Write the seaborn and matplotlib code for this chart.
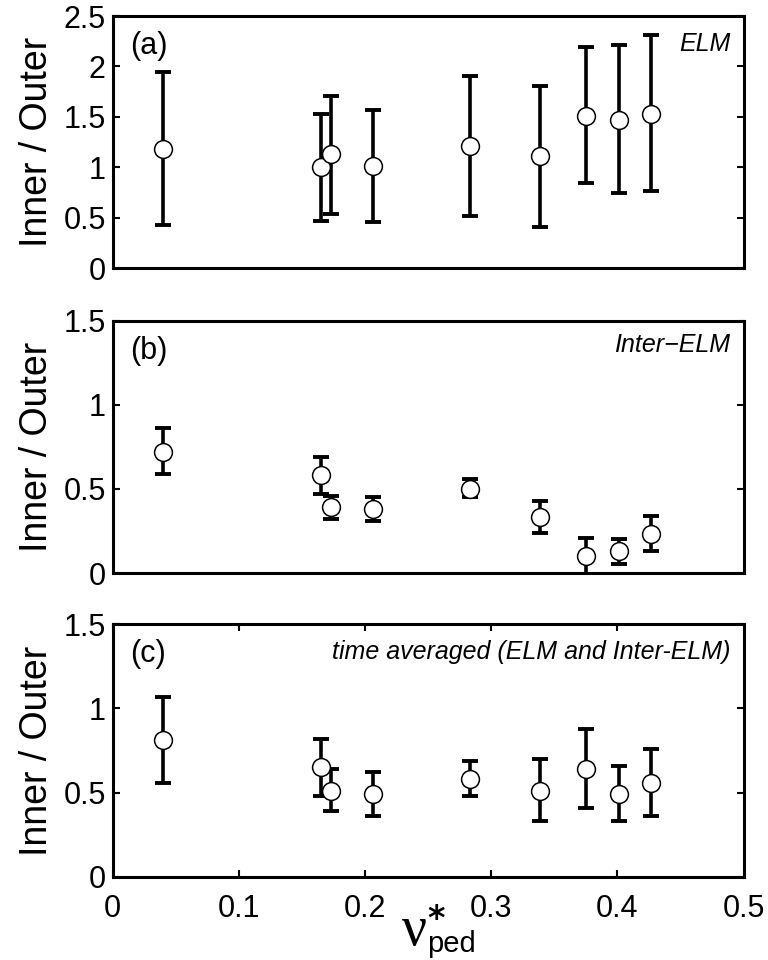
import matplotlib
matplotlib.use("Agg")
import matplotlib.pyplot as plt
import numpy as np
import pandas as pd
import seaborn as sns

# collisionality of each discharge (same for all three panels)
nu_ped = [0.040, 0.165, 0.173, 0.206, 0.283, 0.339, 0.375, 0.401, 0.427]

# (a) ELM
elm_val = [1.18, 1.00, 1.13, 1.01, 1.21, 1.11, 1.51, 1.47, 1.53]
elm_lo = [0.43, 0.47, 0.54, 0.46, 0.52, 0.41, 0.84, 0.74, 0.76]
elm_hi = [1.94, 1.53, 1.71, 1.57, 1.91, 1.81, 2.19, 2.21, 2.31]

# (b) inter-ELM
inter_val = [0.72, 0.58, 0.39, 0.38, 0.50, 0.33, 0.10, 0.13, 0.23]
inter_lo = [0.59, 0.47, 0.32, 0.31, 0.45, 0.24, -0.02, 0.055, 0.13]
inter_hi = [0.86, 0.69, 0.46, 0.45, 0.56, 0.43, 0.21, 0.20, 0.34]

# (c) time averaged
avg_val = [0.81, 0.65, 0.51, 0.49, 0.58, 0.51, 0.64, 0.49, 0.56]
avg_lo = [0.56, 0.48, 0.39, 0.36, 0.48, 0.33, 0.41, 0.33, 0.36]
avg_hi = [1.07, 0.82, 0.64, 0.62, 0.69, 0.70, 0.88, 0.66, 0.76]

panels = [
    ("(a)", "ELM", elm_val, elm_lo, elm_hi, 2.5),
    ("(b)", "Inter\u2212ELM", inter_val, inter_lo, inter_hi, 1.5),
    ("(c)", "time averaged (ELM and Inter-ELM)", avg_val, avg_lo, avg_hi, 1.5),
]

sns.set_style("white")
plt.rcParams["font.family"] = ["Liberation Sans", "DejaVu Sans"]
for key in ["text.color", "axes.labelcolor", "xtick.color", "ytick.color"]:
    plt.rcParams[key] = "black"

fig = plt.figure(figsize=(7.68, 9.6), dpi=100)
rects = [
    [0.1467, 0.7208, 0.8214, 0.2625],
    [0.1467, 0.4031, 0.8214, 0.2630],
    [0.1467, 0.0865, 0.8214, 0.2635],
]

for i, (tag, title, val, lo, hi, ymax) in enumerate(panels):
    ax = fig.add_axes(rects[i])
    df = pd.DataFrame({"nu": nu_ped, "ratio": val, "lo": lo, "hi": hi})
    yerr = np.vstack([df["ratio"] - df["lo"], df["hi"] - df["ratio"]])
    ax.errorbar(df["nu"], df["ratio"], yerr=yerr, fmt="none", ecolor="black",
                elinewidth=2.6, capsize=6, capthick=2.8, zorder=2)
    sns.scatterplot(data=df, x="nu", y="ratio", ax=ax, marker="o", s=165,
                    facecolor="white", edgecolor="black", linewidth=1.1,
                    zorder=3, legend=False)

    ax.set_xlim(0, 0.5)
    ax.set_ylim(0, ymax)
    yt = np.arange(0, ymax + 0.01, 0.5)
    ax.set_yticks(yt)
    ax.set_yticklabels([f"{t:g}" for t in yt])
    ax.set_ylabel("Inner / Outer", fontsize=27, labelpad=6)
    ax.set_xlabel("")
    for s in ax.spines.values():
        s.set_linewidth(2.2)
        s.set_color("black")

    last = i == len(panels) - 1
    ax.tick_params(axis="y", direction="in", left=True, right=True,
                   length=5, width=1.5, labelsize=22, pad=5)
    ax.tick_params(axis="x", direction="in", bottom=last, top=last,
                   labelbottom=last, length=5, width=1.5, labelsize=22, pad=12)
    if last:
        xt = np.arange(0, 0.51, 0.1)
        ax.set_xticks(xt)
        ax.set_xticklabels([f"{t:g}" for t in xt])
    else:
        ax.set_xticks([])

    ax.text(0.027, 0.88, tag, transform=ax.transAxes, fontsize=22,
            ha="left", va="center")
    ax.text(0.979, 0.89 if i != 1 else 0.905, title, transform=ax.transAxes,
            fontsize=18, style="italic", ha="right", va="center")

# x label: nu*_ped, built from pieces to get the upright symbol-font nu
fig.text(402 / 768, 1 - 945 / 960, "\u03bd", family="Liberation Serif",
         fontsize=40, ha="left", va="baseline")
fig.text(436 / 768, 1 - 903 / 960, "*", family="DejaVu Sans", weight="bold",
         fontsize=24, ha="center", va="top")
fig.text(427 / 768, 1 - 952 / 960, "ped", fontsize=21, ha="left", va="baseline")

fig.savefig("out.png", dpi=100)
